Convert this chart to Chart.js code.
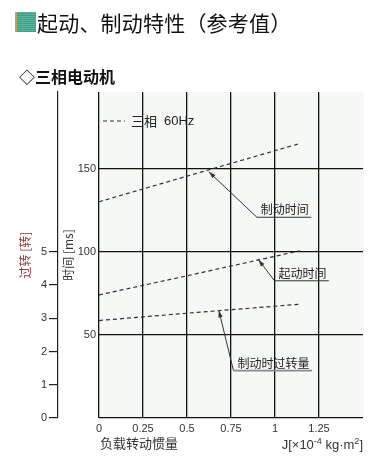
<!DOCTYPE html>
<html><head><meta charset="utf-8">
<script src="https://cdn.jsdelivr.net/npm/chart.js@4"></script>
<style>
html,body{margin:0;padding:0;background:#fff;width:385px;height:469px;overflow:hidden;}
#wrap{position:relative;width:385px;height:469px;}
canvas{position:absolute;left:0;top:0;}
.t{position:absolute;white-space:nowrap;color:#111;}
#icon{position:absolute;left:15px;top:12px;width:19px;height:20px;background:repeating-linear-gradient(0deg,#3d9e8a 0 1px,#5fb49a 1px 2px);border-left:2px solid #b5a55a;}
</style></head><body>
<div id="wrap">
<canvas id="c" width="385" height="469"></canvas>
<div id="icon"></div>
<div class="t" id="title" style="left:37px;top:8px;font:21px 'Noto Sans CJK SC';line-height:28px;letter-spacing:0.2px;">起动、制动特性（参考值）</div>
<div class="t" id="sub" style="left:19px;top:65px;font:bold 16px 'Noto Sans CJK SC';line-height:22px;">◇三相电动机</div>
<div class="t" id="xt1" style="left:100px;top:434px;font:13px 'Noto Sans CJK SC';line-height:18px;color:#333;">负载转动惯量</div>
<div class="t" id="xt2" style="right:22px;top:436px;font:13px 'Liberation Sans';line-height:18px;color:#333;">J[×10<sup style="font-size:9px;vertical-align:5px;line-height:0">-4</sup> kg·m<sup style="font-size:9px;vertical-align:5px;line-height:0">2</sup>]</div>
</div>
<script>
// ---- data ----
const inertia = [0, 0.5, 1.14];                 // J [x10^-4 kg·m^2]
const brakingTime = [130, 145.4, 165];          // ms
const startingTime = [74, 85.5, 100.5];         // ms
const brakingOverrun = [2.93, 3.15, 3.42];      // rotations
const xTicks = [0, 0.25, 0.5, 0.75, 1, 1.25];
const msTicks = [0, 50, 100, 150];
const revTicks = [0, 1, 2, 3, 4, 5];
const legendLabel = ['三相', '60Hz'];
// annotation anchors in data units
const notes = [
  {text: '制动时间', head: [0.624, 148], elbow: [0.897, 120.7], end: 1.206},
  {text: '起动时间', head: [0.906, 95.2], elbow: [0.997, 82.5], end: 1.306},
  {text: '制动时过转量', head: [0.681, 64.6], elbow: [0.764, 28.5], end: 1.211, gray: true}
];
const X_MAX = 1.5, MS_MAX = 196, REV_PER_MS = 5 / 100;

const mk = (arr) => inertia.map((x, i) => ({x, y: arr[i]}));
const dashStyle = {borderColor: '#333', borderWidth: 1.2, borderDash: [4, 3], pointRadius: 0, fill: false, tension: 0};

// dotted pale background
function makePattern(ctx) {
  const N = 8;
  const p = document.createElement('canvas'); p.width = N; p.height = N;
  const g = p.getContext('2d');
  const cols = ['#ffffff', '#eaf2fd', '#fafae6', '#ffffff', '#eef8f0', '#f6f2fb', '#ffffff', '#e6f0fb', '#fbfae8'];
  for (let i = 0; i < N; i++) for (let j = 0; j < N; j++) {
    const h = (i * 7 + j * 13 + ((i * j) % 5) * 3) % cols.length;
    g.fillStyle = cols[h]; g.fillRect(i, j, 1, 1);
  }
  return ctx.createPattern(p, 'repeat');
}

const bgPlugin = {
  id: 'bg',
  beforeDraw(chart) {
    const {ctx, chartArea: a} = chart;
    ctx.save(); ctx.fillStyle = makePattern(ctx);
    ctx.fillRect(a.left, a.top, a.right - a.left + 1, a.bottom - a.top); ctx.restore();
  }
};

const decoPlugin = {
  id: 'deco',
  afterDatasetsDraw(chart) {
    const {ctx, chartArea: a, scales} = chart;
    const xs = scales.x, ys = scales.y;
    ctx.save();
    // legend
    const ly = a.top + 29;
    ctx.strokeStyle = '#333'; ctx.lineWidth = 1.2; ctx.setLineDash([4, 3]);
    ctx.beginPath(); ctx.moveTo(a.left + 4, ly); ctx.lineTo(a.left + 26, ly); ctx.stroke();
    ctx.setLineDash([]);
    ctx.fillStyle = '#222'; ctx.textBaseline = 'middle'; ctx.textAlign = 'left';
    ctx.font = "13px 'Noto Sans CJK SC'"; ctx.fillText(legendLabel[0], a.left + 32, ly);
    ctx.font = "13px 'Liberation Sans'"; ctx.fillText(legendLabel[1], a.left + 65, ly);
    // annotations
    notes.forEach(n => {
      const hx = xs.getPixelForValue(n.head[0]), hy = ys.getPixelForValue(n.head[1]);
      const ex = xs.getPixelForValue(n.elbow[0]), ey = ys.getPixelForValue(n.elbow[1]);
      const rx = xs.getPixelForValue(n.end);
      ctx.strokeStyle = '#333'; ctx.lineWidth = 1;
      ctx.beginPath(); ctx.moveTo(hx, hy); ctx.lineTo(ex, ey); ctx.stroke();
      ctx.strokeStyle = n.gray ? '#8a8a8a' : '#333'; ctx.lineWidth = n.gray ? 1.6 : 1;
      ctx.beginPath(); ctx.moveTo(ex, ey); ctx.lineTo(rx, ey); ctx.stroke();
      const ang = Math.atan2(hy - ey, hx - ex), L = 7, W = 2.2;
      ctx.fillStyle = '#333';
      ctx.beginPath();
      ctx.moveTo(hx, hy);
      ctx.lineTo(hx - L * Math.cos(ang) + W * Math.sin(ang), hy - L * Math.sin(ang) - W * Math.cos(ang));
      ctx.lineTo(hx - L * Math.cos(ang) - W * Math.sin(ang), hy - L * Math.sin(ang) + W * Math.cos(ang));
      ctx.closePath(); ctx.fill();
      ctx.fillStyle = '#222'; ctx.font = "12px 'Noto Sans CJK SC'"; ctx.textBaseline = 'alphabetic';
      ctx.fillText(n.text, ex + 4, ey - 3);
    });
    ctx.restore();
  }
};

new Chart(document.getElementById('c'), {
  type: 'line',
  data: {
    datasets: [
      {label: '制动时间', data: mk(brakingTime), yAxisID: 'y', ...dashStyle},
      {label: '起动时间', data: mk(startingTime), yAxisID: 'y', ...dashStyle},
      {label: '制动时过转量', data: mk(brakingOverrun), yAxisID: 'y2', ...dashStyle}
    ]
  },
  options: {
    responsive: false, animation: false, events: [],
    layout: {padding: {left: 0, top: 92, right: 22, bottom: 21}},
    plugins: {legend: {display: false}, tooltip: {enabled: false}},
    scales: {
      x: {
        type: 'linear', min: 0, max: X_MAX,
        afterBuildTicks: s => { s.ticks = [...xTicks, X_MAX].map(v => ({value: v})); },
        afterFit: s => { s.height = 30; },
        grid: {color: c => c.tick && c.tick.value === X_MAX ? 'rgba(0,0,0,0)' : '#111', lineWidth: 1.3, drawTicks: false},
        border: {display: false},
        ticks: {padding: 4, color: '#333', font: {family: 'Liberation Sans', size: 11},
          callback: v => v === X_MAX ? '' : String(v)}
      },
      y: {
        type: 'linear', position: 'left', min: 0, max: MS_MAX, weight: 0,
        afterBuildTicks: s => { s.ticks = msTicks.map(v => ({value: v})); },
        afterFit: s => { s.width = 41; },
        grid: {color: '#111', lineWidth: 1.3, drawTicks: false},
        border: {display: false},
        ticks: {padding: 3, color: '#333', font: {family: 'Liberation Sans', size: 11},
          callback: v => v === 0 ? '' : String(v)},
        title: {display: true, text: '时间 [ms]', color: '#333', font: {family: 'Noto Sans CJK SC', size: 12}, padding: {top: 3, bottom: 0}}
      },
      y2: {
        type: 'linear', position: 'left', min: 0, max: MS_MAX * REV_PER_MS, weight: 1,
        afterBuildTicks: s => { s.ticks = revTicks.map(v => ({value: v})); },
        afterFit: s => { s.width = 58; },
        grid: {drawOnChartArea: false, drawTicks: true, tickLength: 9, color: '#222', lineWidth: 1.2},
        border: {display: true, color: '#222', width: 1.2},
        ticks: {padding: 2, color: '#333', font: {family: 'Liberation Sans', size: 11}},
        title: {display: true, text: '过转 [转]', color: '#8e3535', font: {family: 'Noto Sans CJK SC', size: 12}, padding: {top: 18, bottom: 0}}
      }
    }
  },
  plugins: [bgPlugin, decoPlugin]
});
</script>
</body></html>
